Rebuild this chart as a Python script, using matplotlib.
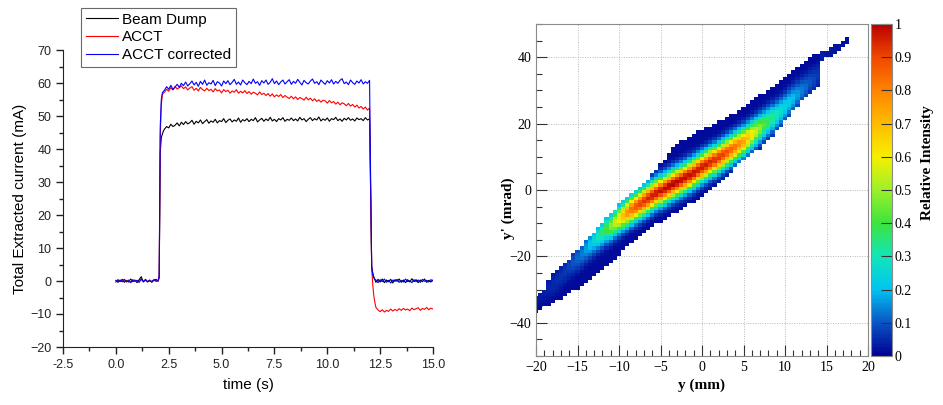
import numpy as np
import matplotlib
matplotlib.use('Agg')
import matplotlib.pyplot as plt
from matplotlib.colors import LinearSegmentedColormap
from matplotlib.ticker import MultipleLocator

# ---------------- left panel: extracted current vs time ----------------
# time base (s): baseline, rising edge, flat top, falling edge, tail
t_pre = np.linspace(0.0, 2.0, 21)
t_rise = [2.05, 2.1, 2.15, 2.2, 2.25]
t_flat = np.linspace(2.3, 12.0, 98)
t_fall = [12.05, 12.1, 12.15, 12.2, 12.25]
t_post = np.linspace(12.3, 15.0, 28)

dump_pre = [-0.3, 0.4, -0.2, 0.5, -0.4, 0.2, -0.3, 0.6, -0.2, 0.3, -0.5, 0.4, 1.3, -0.3, 0.5, -0.2, 0.3, -0.4, 0.2, 0.5, -0.1]
dump_rise = [1.0, 39.0, 43.5, 44.5, 45.5]
dump_flat = [46.0, 46.8, 46.4, 47.5, 46.8, 47.2, 47.9, 47.0, 48.1, 47.4,
             48.3, 47.6, 48.0, 48.7, 47.5, 48.4, 47.9, 48.8, 47.7, 48.3,
             48.9, 47.8, 48.5, 48.1, 49.0, 47.9, 48.6, 48.3, 49.2, 48.0,
             48.7, 49.1, 48.2, 48.8, 48.4, 49.4, 48.1, 48.9, 48.5, 49.2,
             48.3, 49.0, 48.6, 49.5, 48.2, 48.8, 49.3, 48.4, 49.1, 48.6,
             49.6, 48.5, 49.0, 48.3, 49.2, 48.8, 49.5, 48.4, 49.0, 48.7,
             49.4, 48.6, 49.1, 48.5, 49.6, 48.8, 49.2, 48.3, 49.0, 49.5,
             48.6, 49.2, 48.8, 49.7, 48.5, 49.1, 48.7, 49.4, 48.4, 49.2,
             48.9, 49.6, 48.6, 49.1, 48.4, 49.3, 48.8, 49.5, 48.7, 49.1,
             48.5, 49.4, 48.9, 49.2, 48.6, 49.5, 48.8, 49.1]
dump_fall = [26.0, 4.5, 2.5, 1.2, 0.4]
dump_post = [-0.4, 0.5, -0.3, 0.6, -0.5, 0.3, -0.2, 0.5, -0.6, 0.4, -0.1, 0.6, -0.4, 0.3,
             -0.5, 0.4, -0.3, 0.7, -0.2, 0.4, -0.5, 0.3, -0.2, 0.6, -0.4, 0.2, -0.3, 0.3]

acct_pre = [0.1, -0.3, 0.2, -0.2, 0.4, -0.1, 0.3, -0.4, 0.2, 0.0, 0.1, -0.3, 0.5, -0.1, 0.2, -0.2, 0.0, -0.1, 0.3, 0.0, 0.1]
acct_rise = [1.5, 44.0, 53.5, 56.5, 57.0]
acct_flat = [57.2, 58.1, 57.5, 58.6, 57.9, 58.9, 58.2, 58.6, 59.1, 58.3,
             58.8, 57.9, 58.5, 58.9, 57.8, 58.4, 57.6, 58.7, 58.0, 57.6,
             58.4, 57.7, 58.1, 57.3, 58.3, 57.6, 57.9, 57.0, 58.0, 57.4,
             57.8, 56.9, 57.6, 57.2, 58.0, 56.9, 57.5, 57.0, 57.7, 56.8,
             57.4, 56.6, 57.2, 56.9, 56.4, 57.3, 56.5, 56.9, 56.2, 56.8,
             56.0, 56.7, 55.8, 56.4, 55.9, 56.5, 55.6, 56.2, 55.7, 55.3,
             56.0, 55.2, 55.8, 55.0, 55.6, 55.3, 54.8, 55.7, 54.9, 55.4,
             54.6, 55.2, 54.4, 54.9, 54.2, 54.8, 54.6, 53.9, 54.7, 54.0,
             54.4, 53.6, 54.2, 53.4, 54.0, 53.7, 53.1, 53.8, 53.0, 53.5,
             52.7, 53.3, 52.4, 52.9, 52.1, 52.7, 51.8, 52.4]
acct_fall = [28.0, 4.0, -1.0, -4.5, -6.5]
acct_post = [-8.0, -8.8, -9.3, -8.7, -9.4, -8.9, -9.2, -8.5, -9.1, -8.6, -9.0, -8.4, -8.9, -8.3,
             -8.8, -8.5, -9.0, -8.2, -8.7, -8.4, -8.1, -8.9, -8.3, -8.6, -8.0, -8.7, -8.2, -8.5]

corr_pre = [0.2, -0.4, 0.3, -0.2, 0.5, -0.3, 0.1, -0.5, 0.4, -0.1, 0.2, -0.4, 0.6, -0.2, 0.3, -0.3, 0.1, -0.2, 0.4, -0.1, 0.2]
corr_rise = [1.5, 47.0, 55.0, 57.0, 57.5]
corr_flat = [57.8, 58.9, 58.1, 59.3, 58.0, 58.8, 59.6, 58.7, 59.9, 59.2,
             60.3, 59.1, 59.8, 60.6, 59.4, 60.2, 59.0, 60.5, 59.6, 60.9,
             59.3, 60.1, 59.7, 60.8, 59.2, 60.4, 60.0, 59.1, 60.6, 59.8,
             60.7, 59.5, 60.2, 61.1, 59.6, 60.3, 59.4, 60.9, 60.1, 59.5,
             60.5, 59.8, 61.2, 59.9, 60.4, 59.3, 60.7, 60.0, 60.9, 59.6,
             60.2, 61.3, 59.8, 60.6, 59.5, 60.3, 60.9, 59.7, 60.4, 61.0,
             59.6, 60.5, 59.9, 61.1, 60.2, 59.4, 60.8, 60.1, 59.7, 60.6,
             61.2, 59.9, 60.4, 59.5, 60.9, 60.2, 59.6, 60.7, 60.0, 61.0,
             59.7, 60.5, 59.9, 60.8, 61.3, 59.8, 60.3, 59.5, 60.9, 60.1,
             59.6, 60.6, 60.0, 61.0, 59.7, 60.4, 59.9, 60.8]
corr_fall = [30.0, 4.0, 2.0, 1.0, 0.5]
corr_post = [0.3, -0.5, 0.4, -0.2, 0.6, -0.4, 0.2, -0.6, 0.3, -0.1, 0.5, -0.4, 0.2, -0.3,
             0.6, -0.2, 0.1, -0.5, 0.4, -0.2, 0.3, -0.4, 0.5, -0.1, 0.2, -0.3, 0.4, 0.0]

# ---------------- right panel: y - y' phase space ----------------
# one column every 0.5 mm of y (-20 ... 17.5): band lower/upper edge (mrad),
# ridge position (mrad) and peak relative intensity
col_y = np.arange(-20.0, 17.51, 0.5)
band_lo = [-36.5, -36, -35, -34.5, -34, -33, -32.5, -31.5, -31, -30,
           -29.5, -28.5, -27.5, -27, -26, -25, -24, -23, -22, -21,
           -19.5, -18, -17, -15.5, -14.5, -14, -13, -12, -11, -10,
           -9.5, -8.5, -8, -7, -6.5, -6, -5, -4, -3.5, -2.5,
           -2, -1, 0, 1, 2, 3, 4.5, 5.5, 7, 8,
           9, 10, 11, 12, 12.5, 14, 15, 16.5, 18, 19.5,
           21, 22.5, 24, 25.5, 27, 28, 29.5, 30, 31, 39.5,
           40, 40.5, 41, 42, 43, 44]
band_hi = [-32.5, -31.5, -30, -27, -25, -24, -23.5, -22, -21, -19.5,
           -18, -17, -15.5, -14, -13, -11.5, -10, -8.5, -7, -6,
           -4.5, -3, -2, -1, 0, 1, 2, 3, 4.5, 6,
           7.5, 9, 11, 12.5, 13.5, 14.5, 15, 16, 16.5, 17.5,
           18, 18.5, 19, 20, 20.5, 21, 22, 22.5, 23, 24,
           24.5, 25.5, 26.5, 27.5, 28.5, 29, 30, 31, 32, 33,
           34, 35, 36, 37, 38, 39, 40, 40.5, 41, 41.5,
           42, 43, 43.5, 44, 45, 45.5]
ridge = [-32, -31.3, -30.5, -29.5, -28.5, -27.3, -26, -24.5, -23, -21.8,
         -20.5, -19.2, -17.8, -16.5, -15.2, -14, -13, -11.8, -10.8, -9.7,
         -8.7, -7.7, -6.8, -5.8, -5, -4.2, -3.4, -2.6, -1.8, -1,
         -0.3, 0.4, 1.1, 1.8, 2.4, 3.0, 3.7, 4.4, 5.2, 6.0,
         6.8, 7.5, 8.3, 9.0, 9.8, 10.6, 11.4, 12.2, 13.0, 13.8,
         14.6, 15.6, 16.6, 17.6, 18.6, 19.6, 20.6, 21.6, 22.7, 23.8,
         25.0, 26.3, 27.5, 28.7, 30, 31, 32.3, 33.3, 34.5, 40.5,
         41, 41.7, 42.2, 43, 44, 44.7]
peak = [0.03, 0.035, 0.04, 0.045, 0.05, 0.055, 0.06, 0.07, 0.08, 0.1,
        0.12, 0.14, 0.17, 0.21, 0.25, 0.3, 0.35, 0.41, 0.48, 0.55,
        0.62, 0.7, 0.78, 0.84, 0.88, 0.91, 0.93, 0.95, 0.96, 0.97,
        0.98, 0.99, 1.0, 1.0, 1.0, 0.99, 0.99, 0.98, 0.98, 0.97,
        0.97, 0.96, 0.95, 0.94, 0.93, 0.91, 0.89, 0.86, 0.83, 0.79,
        0.75, 0.69, 0.62, 0.55, 0.49, 0.43, 0.38, 0.34, 0.3, 0.27,
        0.24, 0.22, 0.2, 0.17, 0.14, 0.12, 0.1, 0.085, 0.07, 0.04,
        0.03, 0.03, 0.03, 0.025, 0.02, 0.02]
core_width = 2.8   # mrad
floor_level = 0.012

palette = ['#000094', '#0a55c4', '#00c4f2', '#12e6b8', '#3ce43c', '#9cf02a',
           '#f6f000', '#ffbc00', '#ff8400', '#f04800', '#b80000']
cmap = LinearSegmentedColormap.from_list('root_rainbow', palette)
cmap.set_bad((1, 1, 1, 0))

fig = plt.figure(figsize=(9.43, 4.05), dpi=100)

# ---- left ----
ax1 = fig.add_axes([63 / 943, 1 - 347 / 405, 370 / 943, 297 / 405])
t = np.concatenate([t_pre, t_rise, t_flat, t_fall, t_post])
dump = np.concatenate([dump_pre, dump_rise, dump_flat, dump_fall, dump_post])
acct = np.concatenate([acct_pre, acct_rise, acct_flat, acct_fall, acct_post])
corr = np.concatenate([corr_pre, corr_rise, corr_flat, corr_fall, corr_post])

ax1.plot(t, dump, color='black', lw=0.8, label='Beam Dump')
ax1.plot(t, acct, color='#ff0000', lw=0.8, label='ACCT')
ax1.plot(t, corr, color='#0000ff', lw=0.8, label='ACCT corrected')

ax1.set_xlim(-2.5, 15)
ax1.set_ylim(-20, 70)
ax1.set_xticks(np.arange(-2.5, 15.1, 2.5))
ax1.set_xticklabels(['%.1f' % v for v in np.arange(-2.5, 15.1, 2.5)])
ax1.xaxis.set_minor_locator(MultipleLocator(1.25))
ax1.yaxis.set_major_locator(MultipleLocator(10))
ax1.yaxis.set_minor_locator(MultipleLocator(5))
for s in ['top', 'right']:
    ax1.spines[s].set_visible(False)
for s in ['left', 'bottom']:
    ax1.spines[s].set_color('#222222')
ax1.tick_params(which='major', direction='out', length=5, width=1, labelsize=9, colors='#222222')
ax1.tick_params(which='minor', direction='out', length=3, width=1, colors='#222222')
for lab in ax1.get_xticklabels() + ax1.get_yticklabels():
    lab.set_family('Liberation Sans')
ax1.set_xlabel('time (s)', fontsize=11, family='Liberation Sans')
ax1.set_ylabel('Total Extracted current (mA)', fontsize=11, family='Liberation Sans')
ax1.xaxis.set_label_coords(0.5, -0.104)
ax1.yaxis.set_label_coords(-0.097, 0.5)

leg = ax1.legend(loc='upper left', bbox_to_anchor=(81 / 943, 1 - 8 / 405),
                 bbox_transform=fig.transFigure, fancybox=False, edgecolor='#444444',
                 prop={'family': 'Liberation Sans', 'size': 11}, handlelength=2.1,
                 labelspacing=0.25, borderpad=0.3, handletextpad=0.3, borderaxespad=0)
leg.get_frame().set_linewidth(0.8)

# ---- right ----
ax2 = fig.add_axes([536 / 943, 1 - 356 / 405, 332 / 943, 332 / 405])
cax = fig.add_axes([871 / 943, 1 - 356 / 405, 21 / 943, 332 / 405])

x_edges = np.append(col_y - 0.25, col_y[-1] + 0.25)
yp_edges = np.arange(-50, 51, 1.0)
yp_c = 0.5 * (yp_edges[:-1] + yp_edges[1:])
Z = np.full((len(yp_c), len(col_y)), np.nan)
for i in range(len(col_y)):
    inside = (yp_c >= band_lo[i]) & (yp_c <= band_hi[i])
    prof = peak[i] * np.exp(-0.5 * ((yp_c - ridge[i]) / core_width) ** 2)
    prof = np.maximum(prof, floor_level)
    Z[inside, i] = prof[inside]
Z = np.ma.masked_invalid(Z)

ax2.grid(True, color='#b8b8b8', linestyle=(0, (1, 1.5)), lw=0.7)
ax2.set_axisbelow(True)
mesh = ax2.pcolormesh(x_edges, yp_edges, Z, cmap=cmap, vmin=0, vmax=1, zorder=2)
ax2.set_xlim(-20, 20)
ax2.set_ylim(-50, 50)
ax2.xaxis.set_major_locator(MultipleLocator(5))
ax2.xaxis.set_minor_locator(MultipleLocator(1))
ax2.yaxis.set_major_locator(MultipleLocator(20))
ax2.yaxis.set_minor_locator(MultipleLocator(5))
ax2.tick_params(which='major', direction='in', length=8, width=0.8, labelsize=10, colors='#333333')
ax2.tick_params(which='minor', direction='in', length=4, width=0.8, colors='#333333')
for s in ax2.spines.values():
    s.set_color('#8a8a8a')
for lab in ax2.get_xticklabels() + ax2.get_yticklabels():
    lab.set_family('Liberation Serif')
    lab.set_color('black')
fig.text(702 / 943, 1 - 385 / 405, 'y (mm)', ha='center', va='center',
         family='Liberation Serif', weight='bold', fontsize=11)
fig.text(508 / 943, 1 - 208 / 405, "y' (mrad)", ha='center', va='center', rotation=90,
         family='Liberation Serif', weight='bold', fontsize=11)

cb = fig.colorbar(mesh, cax=cax, ticks=np.arange(0, 1.01, 0.1))
cb.ax.set_yticklabels(['0'] + ['%.1f' % v for v in np.arange(0.1, 0.95, 0.1)] + ['1'])
cb.outline.set_edgecolor('#8a8a8a')
cax.tick_params(direction='in', length=8, width=0.8, labelsize=10, colors='#333333', pad=2)
for lab in cax.get_yticklabels():
    lab.set_family('Liberation Serif')
    lab.set_color('black')
fig.text(928 / 943, 1 - 163 / 405, 'Relative Intensity', ha='center', va='center', rotation=90,
         family='Liberation Serif', weight='bold', fontsize=11)

fig.savefig('out.png', dpi=100)
